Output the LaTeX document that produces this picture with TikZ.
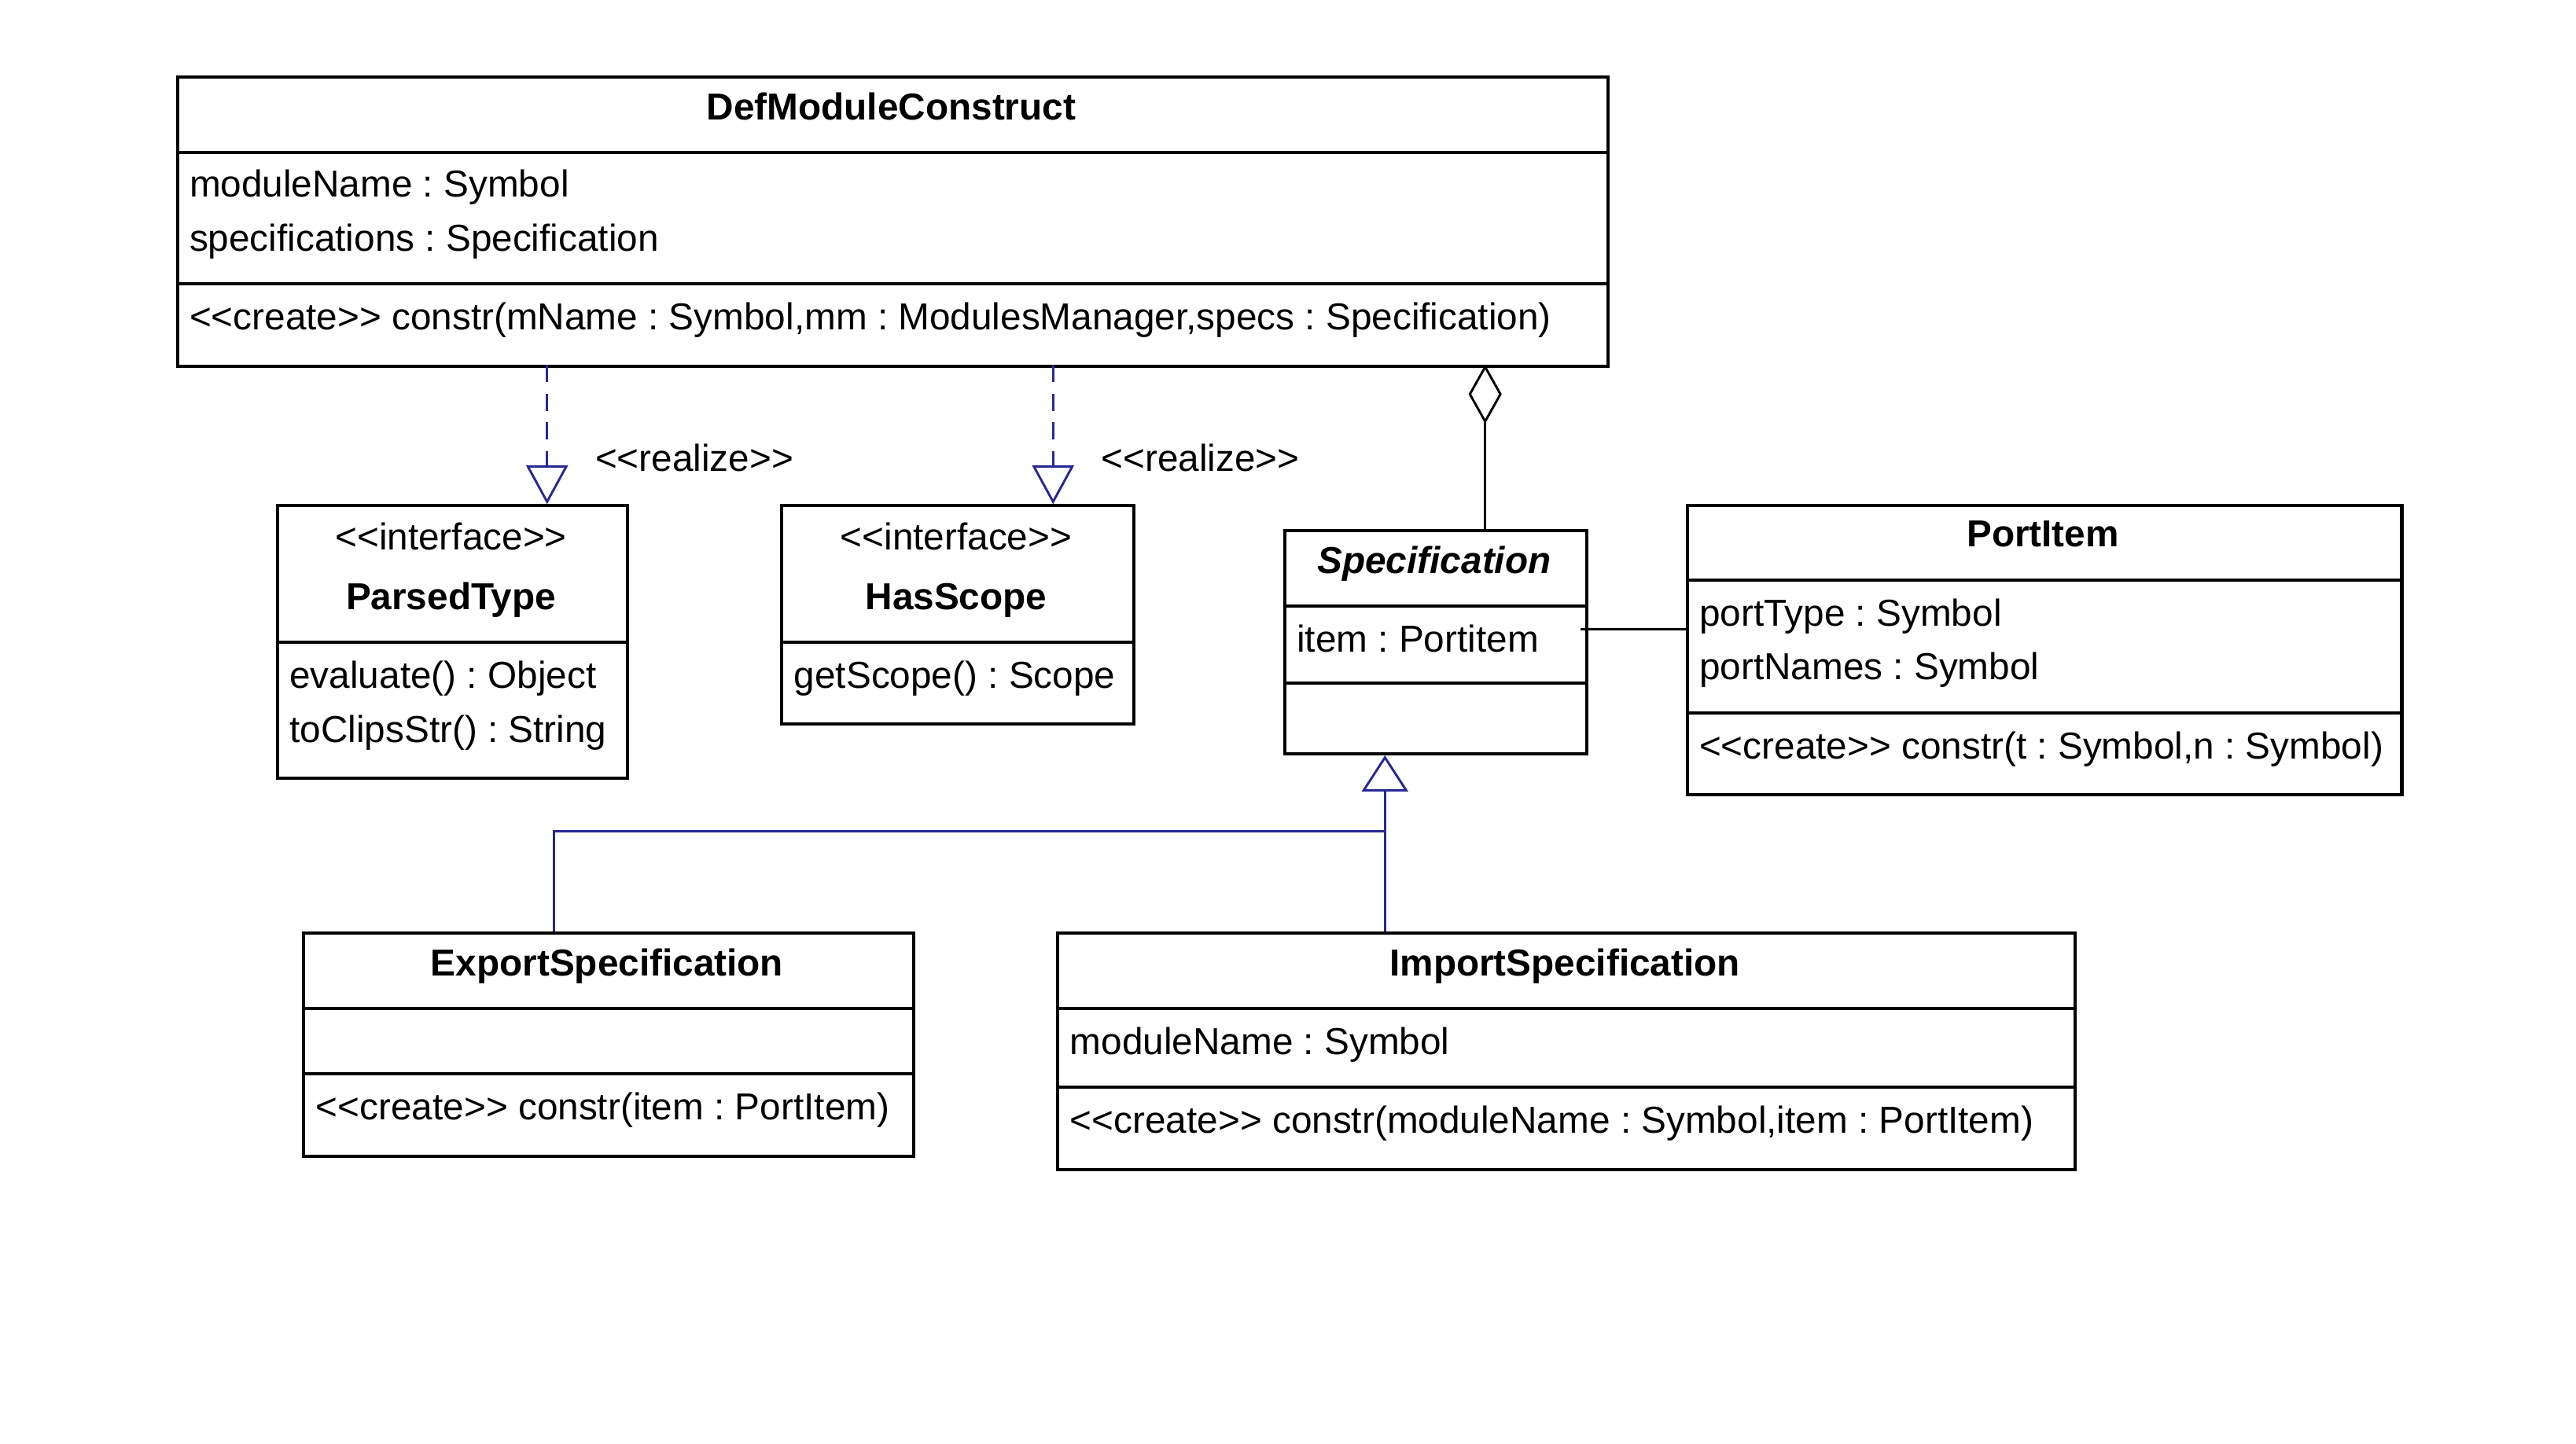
\documentclass[tikz,border=0pt]{standalone}
\usepackage{fontspec}
\setmainfont{Liberation Sans}
\usetikzlibrary{arrows.meta}
\definecolor{umlblue}{RGB}{40,40,150}
\newcommand{\boxline}{1.1pt}
\newcommand{\linkline}{0.8pt}
\newcommand{\txtsize}{\fontsize{13}{16}\selectfont}
\newcommand{\stereo}[1]{<{}<#1>{}>}
\frenchspacing

\begin{document}
\begin{tikzpicture}[x=0.02cm, y=-0.02cm,
    classbox/.style={draw, line width=\boxline, anchor=north west, inner sep=0pt},
    boxsize/.style 2 args={minimum width=#1*0.02cm, minimum height=#2*0.02cm},
    attr/.style={anchor=base west, inner sep=0pt, font=\txtsize},
    title/.style={anchor=base, inner sep=0pt, font=\txtsize\bfseries},
    realize/.style={draw=umlblue, line width=\linkline, dash pattern=on 6pt off 4pt,
        -{Triangle[open, width=14.5pt, length=13.5pt]}},
    genline/.style={draw=umlblue, line width=\linkline}]
    \useasboundingbox (0,0) rectangle (1568,879);

    % class boxes
    \node[classbox, boxsize={871}{176}] (def) at (107,46) {};
    \node[classbox, boxsize={213}{166}] (ptype) at (168,307) {};
    \node[classbox, boxsize={214}{133}] (scope) at (475,307) {};
    \node[classbox, boxsize={184}{136}] (spec) at (781,322) {};
    \node[classbox, boxsize={435}{176}] (port) at (1026,307) {};
    \node[classbox, boxsize={371}{136}] (exp) at (184,567) {};
    \node[classbox, boxsize={619}{144}] (imp) at (643,567) {};

    % compartment lines
    \draw[line width=\boxline] (107,93) -- (978,93) (107,173) -- (978,173);
    \draw[line width=\boxline] (168,391) -- (381,391);
    \draw[line width=\boxline] (475,391) -- (689,391);
    \draw[line width=\boxline] (781,369) -- (965,369) (781,416) -- (965,416);
    \draw[line width=\boxline] (1026,353) -- (1461,353) (1026,434) -- (1461,434);
    \draw[line width=\boxline] (184,614) -- (555,614) (184,654) -- (555,654);
    \draw[line width=\boxline] (643,614) -- (1262,614) (643,662) -- (1262,662);

    % texts
    \node[title] (defT) at (542.5,73) {DefModuleConstruct};
    \node[attr] (defA1) at (115,120) {moduleName : Symbol};
    \node[attr] (defA2) at (115,153) {specifications : Specification};
    \node[attr] (defM1) at (115,201) {\stereo{create} constr(mName : Symbol,mm : ModulesManager,specs : Specification)};

    \node[attr, anchor=base] (ptypeS) at (274.5,335) {\stereo{interface}};
    \node[title] (ptypeT) at (274.5,371) {ParsedType};
    \node[attr] (ptypeM1) at (176,419) {evaluate() : Object};
    \node[attr] (ptypeM2) at (176,452) {toClipsStr() : String};

    \node[attr, anchor=base] (scopeS) at (582,335) {\stereo{interface}};
    \node[title] (scopeT) at (582,371) {HasScope};
    \node[attr] (scopeM1) at (483,419) {getScope() : Scope};

    \node[title, font=\txtsize\bfseries\itshape] (specT) at (873,349) {Specification};
    \node[attr] (specA1) at (789,397) {item : Portitem};

    \node[title] (portT) at (1243.5,333) {PortItem};
    \node[attr] (portA1) at (1034,381) {portType : Symbol};
    \node[attr] (portA2) at (1034,414) {portNames : Symbol};
    \node[attr] (portM1) at (1034,462) {\stereo{create} constr(t : Symbol,n : Symbol)};

    \node[title] (expT) at (369.5,594) {ExportSpecification};
    \node[attr] (expM1) at (192,682) {\stereo{create} constr(item : PortItem)};

    \node[title] (impT) at (952.5,594) {ImportSpecification};
    \node[attr] (impA1) at (651,642) {moduleName : Symbol};
    \node[attr] (impM1) at (651,690) {\stereo{create} constr(moduleName : Symbol,item : PortItem)};

    % realizations
    \coordinate (real1) at (333,222);
    \coordinate (real2) at (641,222);
    \draw[realize] (real1) -- (real1 |- ptype.north);
    \draw[realize] (real2) -- (real2 |- scope.north);
    \node[attr] (real1L) at (362,287) {\stereo{realize}};
    \node[attr] (real2L) at (670,287) {\stereo{realize}};

    % aggregation and association
    \coordinate (aggr) at (904,222);
    \draw[line width=\linkline, {Diamond[open, width=11.5pt, length=20.5pt]}-] (aggr) -- (aggr |- spec.north);
    \coordinate (assoc) at (962,383);
    \draw[line width=\linkline] (assoc) -- (assoc -| port.west);

    % generalization
    \coordinate (genJ) at (843,506);
    \coordinate (genE) at (337,506);
    \draw[genline] (genE |- exp.north) -- (genE) -- (genJ);
    \draw[genline, -{Triangle[open, width=16pt, length=12.5pt]}] (genJ |- imp.north) -- (genJ |- spec.south);
\end{tikzpicture}
\end{document}
